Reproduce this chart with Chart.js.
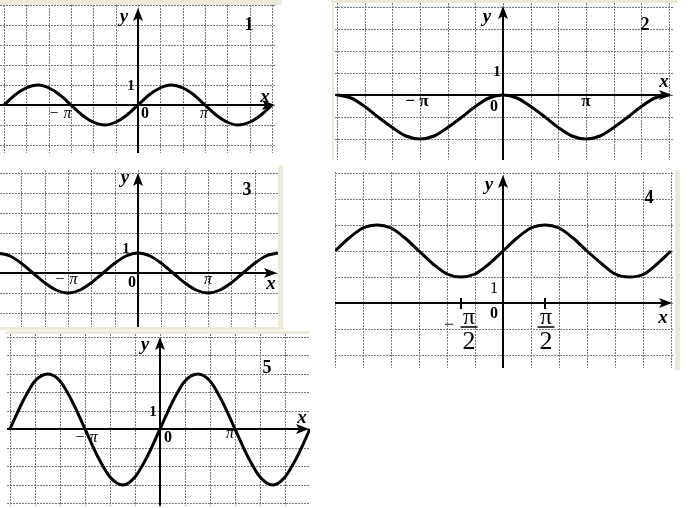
<!DOCTYPE html>
<html>
<head>
<meta charset="utf-8">
<script src="https://cdn.jsdelivr.net/npm/chart.js@4.4.1/dist/chart.umd.min.js"></script>
<style>
  body { margin: 0; width: 690px; height: 508px; position: relative; overflow: hidden; background: #fff; }
  .beige { position: absolute; background: #ece9d8; }
  canvas { position: absolute; background: #fff; }
</style>
</head>
<body>
<div class="beige" style="left:0;top:0;width:282px;height:5px"></div>
<div class="beige" style="left:331px;top:0;width:346px;height:3px"></div>
<div class="beige" style="left:332px;top:0;width:2px;height:160px"></div>
<div class="beige" style="left:278px;top:165px;width:5px;height:165px"></div>
<div class="beige" style="left:0;top:327px;width:283px;height:3px"></div>
<div class="beige" style="left:675px;top:170px;width:5px;height:200px"></div>
<div class="beige" style="left:5px;top:331px;width:305px;height:3px"></div>

<canvas id="g1" width="276" height="148" style="left:0;top:5px"></canvas>
<canvas id="g2" width="338" height="157" style="left:335px;top:3px"></canvas>
<canvas id="g3" width="278" height="157" style="left:0;top:170px"></canvas>
<canvas id="g4" width="338" height="196" style="left:335px;top:172px"></canvas>
<canvas id="g5" width="303" height="172" style="left:7px;top:334px"></canvas>

<script>
// x positions in units of π, every π/6
const xSamples = [-2, -1.83, -1.67, -1.5, -1.33, -1.17, -1, -0.83, -0.67, -0.5, -0.33, -0.17, 0,
  0.17, 0.33, 0.5, 0.67, 0.83, 1, 1.17, 1.33, 1.5, 1.67, 1.83, 2];

// values
const curve1 = [0, 0.5, 0.87, 1, 0.87, 0.5, 0, -0.5, -0.87, -1, -0.87, -0.5, 0,
  0.5, 0.87, 1, 0.87, 0.5, 0, -0.5, -0.87, -1, -0.87, -0.5, 0];
const curve2 = [0, -0.13, -0.5, -1, -1.5, -1.87, -2, -1.87, -1.5, -1, -0.5, -0.13, 0,
  -0.13, -0.5, -1, -1.5, -1.87, -2, -1.87, -1.5, -1, -0.5, -0.13, 0];
const curve3 = [1, 0.87, 0.5, 0, -0.5, -0.87, -1, -0.87, -0.5, 0, 0.5, 0.87, 1,
  0.87, 0.5, 0, -0.5, -0.87, -1, -0.87, -0.5, 0, 0.5, 0.87, 1];
const curve4 = [2, 2.5, 2.87, 3, 2.87, 2.5, 2, 1.5, 1.13, 1, 1.13, 1.5, 2,
  2.5, 2.87, 3, 2.87, 2.5, 2, 1.5, 1.13, 1, 1.13, 1.5, 2];
const curve5 = [0, 1.5, 2.6, 3, 2.6, 1.5, 0, -1.5, -2.6, -3, -2.6, -1.5, 0,
  1.5, 2.6, 3, 2.6, 1.5, 0, -1.5, -2.6, -3, -2.6, -1.5, 0];

// tick labels
const panelNumbers = ["1", "2", "3", "4", "5"];
const axisNames = ["x", "y"];
const unitLabel = "1";
const originLabel = "0";
const piLabels = ["− π", "π"];
const halfPiTicks = [-0.5, 0.5];
const halfPiParts = ["π", "2", "−"];

const SERIF = '"Liberation Serif", "DejaVu Serif", serif';
const X_GRID_STEP = 1 / 3;  // π/3
const Y_GRID_STEP = 1;

const gridTicks = (step) => (scale) => {
  const ticks = [];
  for (let k = Math.ceil(scale.min / step - 1e-9); k * step <= scale.max + 1e-9; k += 1) {
    ticks.push({ value: k * step });
  }
  scale.ticks = ticks;
};

const axesPlugin = {
  id: "axes",
  beforeDatasetsDraw(chart, args, opts) {
    const { ctx, chartArea: a, scales: { x, y } } = chart;
    const ox = x.getPixelForValue(0);
    const oy = y.getPixelForValue(0);
    ctx.save();
    ctx.strokeStyle = "#000";
    ctx.fillStyle = "#000";
    ctx.lineWidth = 2;
    ctx.beginPath();
    ctx.moveTo(a.left, oy);
    ctx.lineTo(a.right - 8, oy);
    ctx.moveTo(ox, a.bottom);
    ctx.lineTo(ox, a.top + 12);
    for (const v of opts.marks || []) {
      const px = x.getPixelForValue(v);
      ctx.moveTo(px, oy - 5);
      ctx.lineTo(px, oy + 6);
    }
    ctx.stroke();

    ctx.beginPath();
    ctx.moveTo(a.right - 1, oy);
    ctx.lineTo(a.right - 14, oy - 5);
    ctx.lineTo(a.right - 11, oy);
    ctx.lineTo(a.right - 14, oy + 5);
    ctx.closePath();
    ctx.moveTo(ox, a.top + 3);
    ctx.lineTo(ox - 5, a.top + 16);
    ctx.lineTo(ox, a.top + 13);
    ctx.lineTo(ox + 5, a.top + 16);
    ctx.closePath();
    ctx.fill();
    ctx.restore();
  },
  afterDatasetsDraw(chart, args, opts) {
    const { ctx, scales: { x, y } } = chart;
    ctx.save();
    ctx.fillStyle = "#000";
    ctx.textAlign = "center";
    ctx.textBaseline = "middle";
    for (const [text, vx, vy, font] of opts.labels || []) {
      ctx.font = font + " " + SERIF;
      ctx.fillText(text, x.getPixelForValue(vx), y.getPixelForValue(vy));
    }
    ctx.lineWidth = 1.5;
    for (const [vx, vy, w] of opts.bars || []) {
      const px = x.getPixelForValue(vx);
      const py = y.getPixelForValue(vy);
      ctx.beginPath();
      ctx.moveTo(px - w / 2, py);
      ctx.lineTo(px + w / 2, py);
      ctx.stroke();
    }
    ctx.restore();
  }
};

const panels = [
  {
    id: "g1", curve: curve1, x: [-2.06, 2.06], y: [-2.4, 5.0],
    labels: [
      [axisNames[1], -0.21, 4.4, "italic bold 19px"],
      [panelNumbers[0], 1.66, 4.0, "bold 18px"],
      [unitLabel, -0.1, 0.95, "bold 15px"],
      [originLabel, 0.1, -0.45, "bold 16px"],
      [piLabels[0], -1.16, -0.45, "italic 16px"],
      [piLabels[1], 0.99, -0.45, "italic 16px"],
      [axisNames[0], 1.9, 0.4, "italic bold 19px"]
    ]
  },
  {
    id: "g2", curve: curve2, x: [-2.024, 2.048], y: [-2.95, 4.18],
    labels: [
      [axisNames[1], -0.19, 3.55, "italic bold 19px"],
      [panelNumbers[1], 1.71, 3.18, "bold 18px"],
      [unitLabel, -0.07, 1.05, "bold 15px"],
      [originLabel, -0.11, -0.55, "bold 16px"],
      [piLabels[0], -1.04, -0.32, "bold 17px"],
      [piLabels[1], 1.0, -0.32, "bold 17px"],
      [axisNames[0], 1.94, 0.59, "italic bold 19px"]
    ]
  },
  {
    id: "g3", curve: curve3, x: [-1.97, 2.0], y: [-2.7, 5.15],
    labels: [
      [axisNames[1], -0.19, 4.75, "italic bold 19px"],
      [panelNumbers[2], 1.56, 4.15, "bold 18px"],
      [unitLabel, -0.17, 1.2, "bold 15px"],
      [originLabel, -0.09, -0.5, "bold 16px"],
      [piLabels[0], -1.03, -0.35, "italic 16px"],
      [piLabels[1], 1.0, -0.35, "italic 16px"],
      [axisNames[0], 1.9, -0.55, "italic bold 19px"]
    ]
  },
  {
    id: "g4", curve: curve4, x: [-2.0, 2.02], y: [-2.5, 5.04], marks: halfPiTicks,
    labels: [
      [axisNames[1], -0.17, 4.54, "italic bold 19px"],
      [panelNumbers[3], 1.73, 4.04, "bold 18px"],
      [unitLabel, -0.11, 0.54, "16px"],
      [originLabel, -0.11, -0.42, "bold 16px"],
      [halfPiParts[2], -0.64, -0.85, "18px"],
      [halfPiParts[0], -0.405, -0.56, "24px"],
      [halfPiParts[1], -0.405, -1.5, "26px"],
      [halfPiParts[0], 0.51, -0.56, "24px"],
      [halfPiParts[1], 0.51, -1.5, "26px"],
      [axisNames[0], 1.9, -0.58, "italic bold 19px"]
    ],
    bars: [[-0.405, -0.92, 17], [0.51, -0.92, 17]]
  },
  {
    id: "g5", curve: curve5, x: [-2.04, 2.0], y: [-4.16, 5.14],
    labels: [
      [axisNames[1], -0.2, 4.54, "italic bold 19px"],
      [panelNumbers[4], 1.43, 3.3, "bold 18px"],
      [unitLabel, -0.09, 0.92, "bold 15px"],
      [originLabel, 0.11, -0.49, "bold 16px"],
      [piLabels[0], -0.99, -0.49, "italic 16px"],
      [piLabels[1], 0.93, -0.27, "italic 16px"],
      [axisNames[0], 1.89, 0.6, "italic bold 19px"]
    ]
  }
];

const makeScale = (range, step) => ({
  type: "linear",
  min: range[0],
  max: range[1],
  alignToPixels: true,
  afterBuildTicks: gridTicks(step),
  ticks: { display: false },
  grid: { color: "#7a7a7a", lineWidth: 1, drawTicks: false },
  border: { display: false, dash: [2, 1] }
});

for (const panel of panels) {
  new Chart(document.getElementById(panel.id), {
    type: "line",
    data: {
      datasets: [{
        data: xSamples.map((x, i) => ({ x, y: panel.curve[i] })),
        borderColor: "#000",
        borderWidth: 3,
        pointRadius: 0,
        cubicInterpolationMode: "monotone",
        clip: false
      }]
    },
    options: {
      responsive: false,
      animation: false,
      events: [],
      layout: { autoPadding: false, padding: 0 },
      scales: {
        x: makeScale(panel.x, X_GRID_STEP),
        y: makeScale(panel.y, Y_GRID_STEP)
      },
      plugins: {
        legend: { display: false },
        tooltip: { enabled: false },
        axes: { labels: panel.labels, bars: panel.bars, marks: panel.marks }
      }
    },
    plugins: [axesPlugin]
  });
}
</script>
</body>
</html>
